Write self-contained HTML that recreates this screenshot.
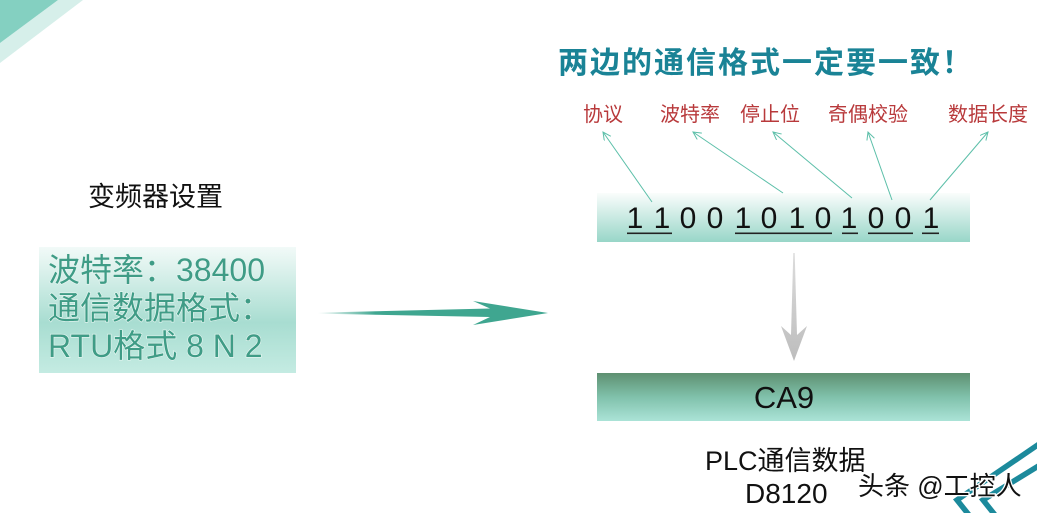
<!DOCTYPE html>
<html><head><meta charset="utf-8">
<style>
html,body{margin:0;padding:0;background:#fff;}
body{width:1037px;height:513px;overflow:hidden;position:relative;}
svg{position:absolute;left:0;top:0;}
.cjk{font-family:"Liberation Sans","Noto Sans CJK SC",sans-serif;}
</style></head>
<body>
<svg width="1037" height="513" viewBox="0 0 1037 513" xmlns="http://www.w3.org/2000/svg">
<defs>
  <linearGradient id="gBits" x1="0" y1="0" x2="0" y2="1">
    <stop offset="0" stop-color="#fafdfc"/>
    <stop offset="1" stop-color="#98d6c8"/>
  </linearGradient>
  <linearGradient id="gLeft" x1="0" y1="0" x2="0" y2="1">
    <stop offset="0" stop-color="#f2faf8"/>
    <stop offset="0.6" stop-color="#a8ddd1"/>
    <stop offset="1" stop-color="#c4ebe2"/>
  </linearGradient>
  <linearGradient id="gCA" x1="0" y1="0" x2="0" y2="1">
    <stop offset="0" stop-color="#5e9071"/>
    <stop offset="0.5" stop-color="#80c1ab"/>
    <stop offset="1" stop-color="#abe3d7"/>
  </linearGradient>
  <linearGradient id="gArrow" x1="318" y1="0" x2="548" y2="0" gradientUnits="userSpaceOnUse">
    <stop offset="0" stop-color="#3fa690" stop-opacity="0"/>
    <stop offset="0.25" stop-color="#3fa690" stop-opacity="1"/>
    <stop offset="1" stop-color="#3fa690"/>
  </linearGradient>
  <linearGradient id="gDown" x1="0" y1="253" x2="0" y2="361" gradientUnits="userSpaceOnUse">
    <stop offset="0" stop-color="#dcdcdc"/>
    <stop offset="1" stop-color="#bdbdbd"/>
  </linearGradient>
  <marker id="ah" markerWidth="10" markerHeight="10" refX="8" refY="4" orient="auto" markerUnits="userSpaceOnUse">
    <path d="M0,0 L8,4 L0,8" fill="none" stroke="#5cbfa9" stroke-width="1"/>
  </marker>
</defs>

<!-- top-left decoration -->
<polygon points="58,0 83,0 0,63 0,43" fill="#d6efea"/>
<polygon points="0,0 58,0 0,43" fill="#84d0c1"/>

<!-- title -->
<text x="558" y="73" class="cjk" font-size="30" font-weight="bold" fill="#1a8396" letter-spacing="2">两边的通信格式一定要一致！</text>

<!-- red labels -->
<g class="cjk" font-size="20" fill="#b8393b">
  <text x="583" y="121">协议</text>
  <text x="660" y="121">波特率</text>
  <text x="740" y="121">停止位</text>
  <text x="828" y="121">奇偶校验</text>
  <text x="948" y="121">数据长度</text>
</g>

<!-- bits box -->
<rect x="597" y="193" width="373" height="49" fill="url(#gBits)"/>

<!-- thin arrows -->
<g stroke="#5cbfa9" stroke-width="1" fill="none" marker-end="url(#ah)">
  <line x1="652" y1="202" x2="603" y2="132"/>
  <line x1="783" y1="193" x2="693" y2="132"/>
  <line x1="852" y1="198" x2="773" y2="132"/>
  <line x1="892" y1="200" x2="868" y2="132"/>
  <line x1="930" y1="200" x2="988" y2="132"/>
</g>

<!-- digits -->
<g font-family="'Liberation Sans',sans-serif" font-size="30" fill="#111" text-anchor="middle">
  <text x="635" y="228">1</text>
  <text x="662" y="228">1</text>
  <text x="688" y="228">0</text>
  <text x="715" y="228">0</text>
  <text x="743" y="228">1</text>
  <text x="769" y="228">0</text>
  <text x="797" y="228">1</text>
  <text x="823" y="228">0</text>
  <text x="849" y="228">1</text>
  <text x="876" y="228">0</text>
  <text x="903" y="228">0</text>
  <text x="931" y="228">1</text>
</g>
<g fill="#222">
  <rect x="627" y="232.5" width="45" height="1.6"/>
  <rect x="735" y="232.5" width="97" height="1.6"/>
  <rect x="842" y="232.5" width="16" height="1.6"/>
  <rect x="868" y="232.5" width="45" height="1.6"/>
  <rect x="922" y="232.5" width="17" height="1.6"/>
</g>

<!-- left title -->
<text x="88" y="206" class="cjk" font-size="27" fill="#111">变频器设置</text>

<!-- left box -->
<rect x="39" y="247" width="257" height="126" fill="url(#gLeft)"/>
<g class="cjk" font-size="32" fill="#3f9c86" style="paint-order:stroke" stroke="#e8f6f2" stroke-width="1.2">
  <text x="48" y="281">波特率：38400</text>
  <text x="48" y="319">通信数据格式：</text>
  <text x="48" y="357">RTU格式 8 N 2</text>
</g>

<!-- big arrow -->
<polygon points="318,312.6 490,308.5 473,301 548,313 473,325 490,317 318,313.6" fill="url(#gArrow)"/>

<!-- down gray arrow -->
<polygon points="793.3,253 794.7,253 797,335 807,326 794,361 781,326 791,335" fill="url(#gDown)"/>

<!-- CA9 box -->
<rect x="597" y="373" width="373" height="48" fill="url(#gCA)"/>
<text x="784" y="408" font-family="'Liberation Sans',sans-serif" font-size="31" fill="#111" text-anchor="middle">CA9</text>

<!-- PLC text -->
<text x="705" y="470" class="cjk" font-size="27" fill="#111">PLC通信数据</text>
<text x="745" y="503" font-family="'Liberation Sans',sans-serif" font-size="28" fill="#111">D8120</text>

<!-- chevrons bottom right -->
<g stroke="#1c8a9c" stroke-width="5.5" fill="none" stroke-linejoin="miter">
  <polyline points="1045,440 957,500 973,520"/>
  <polyline points="1045,462 983,500 999,520"/>
</g>

<!-- watermark -->
<text x="858" y="495" class="cjk" font-size="26" fill="#111" stroke="#fff" stroke-width="2.5" style="paint-order:stroke">头条 @工控人</text>
</svg>
</body></html>
